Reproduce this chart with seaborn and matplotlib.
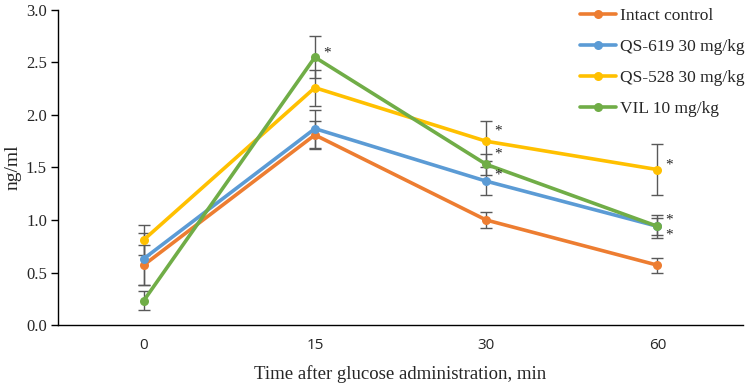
import pandas as pd
import matplotlib
matplotlib.use("Agg")
import matplotlib.pyplot as plt
import seaborn as sns

# --- data ---
times = ["0", "15", "30", "60"]
groups = ["Intact control", "QS-619 30 mg/kg", "QS-528 30 mg/kg", "VIL 10 mg/kg"]
intact = [0.57, 1.81, 1.00, 0.57]
qs619 = [0.63, 1.87, 1.37, 0.94]
qs528 = [0.81, 2.26, 1.75, 1.48]
vil = [0.23, 2.55, 1.53, 0.94]
intact_err = [0.19, 0.13, 0.08, 0.07]
qs619_err = [0.25, 0.18, 0.13, 0.08]
qs528_err = [0.14, 0.17, 0.19, 0.24]
vil_err = [0.09, 0.20, 0.10, 0.11]
# significance marks: (group, time index)
stars = [("VIL 10 mg/kg", 1), ("QS-528 30 mg/kg", 2), ("VIL 10 mg/kg", 2),
         ("QS-619 30 mg/kg", 2), ("QS-528 30 mg/kg", 3), ("VIL 10 mg/kg", 3),
         ("QS-619 30 mg/kg", 3)]

colors = ["#ED7D31", "#5B9BD5", "#FFC000", "#70AD47"]
values = [intact, qs619, qs528, vil]
errors = [intact_err, qs619_err, qs528_err, vil_err]

rows = []
for g, vals in zip(groups, values):
    for t, v in zip(times, vals):
        rows.append({"time": t, "group": g, "value": v})
df = pd.DataFrame(rows)

sns.set_style("white")
plt.rcParams["font.family"] = ["Liberation Serif", "DejaVu Serif"]

fig = plt.figure(figsize=(7.5, 3.83), dpi=100)
ax = fig.add_axes([0.0773, 0.1514, 0.9134, 0.8226])

sns.lineplot(data=df, x="time", y="value", hue="group", palette=colors,
             marker="o", markersize=6.5, markeredgewidth=0, linewidth=2.6,
             ax=ax, sort=False)

# error bars
for vals, errs in zip(values, errors):
    ax.errorbar(range(len(times)), vals, yerr=errs, fmt="none",
                ecolor="#595959", elinewidth=1, capsize=4, capthick=1, zorder=1)

# asterisks (offsets above each point, in data units)
star_dy = {1: {"VIL 10 mg/kg": 0.04},
           2: {"QS-528 30 mg/kg": 0.10, "VIL 10 mg/kg": 0.10, "QS-619 30 mg/kg": 0.06},
           3: {"QS-528 30 mg/kg": 0.04, "VIL 10 mg/kg": 0.06, "QS-619 30 mg/kg": -0.08}}
for g, i in stars:
    v = values[groups.index(g)][i]
    ax.text(i + 0.07, v + star_dy[i][g], "*", fontsize=11, ha="center", va="center")

yt = [0, 0.5, 1.0, 1.5, 2.0, 2.5, 3.0]
ax.set_xlim(-0.5, 3.5)
ax.set_ylim(0, 3.0)
ax.set_yticks(yt)
ax.set_yticklabels([f"{v:.1f}" for v in yt], fontsize=12)
ax.set_xticks(range(len(times)))
ax.set_xticklabels(times, fontsize=11, family=["Open Sans", "DejaVu Sans"])
ax.set_xticks([-0.5, 0.5, 1.5, 2.5, 3.5], minor=True)
ax.tick_params(axis="x", which="major", length=0, pad=9)
ax.tick_params(axis="x", which="minor", length=5, width=1, color="black", direction="out")
ax.tick_params(axis="y", length=5, width=1, color="black", direction="out", left=True, pad=3)

sns.despine(ax=ax)
for s in ["left", "bottom"]:
    ax.spines[s].set_color("black")
    ax.spines[s].set_linewidth(1)

ax.set_xlabel("Time after glucose administration, min", fontsize=13.5, labelpad=9)
ax.set_ylabel("ng/ml", fontsize=14, labelpad=3)

leg = ax.legend(loc="upper right", bbox_to_anchor=(1.025, 1.055), frameon=False,
                fontsize=12.5, handlelength=2.1, handletextpad=0.2,
                labelspacing=0.85)

fig.savefig("out.png", dpi=100)
